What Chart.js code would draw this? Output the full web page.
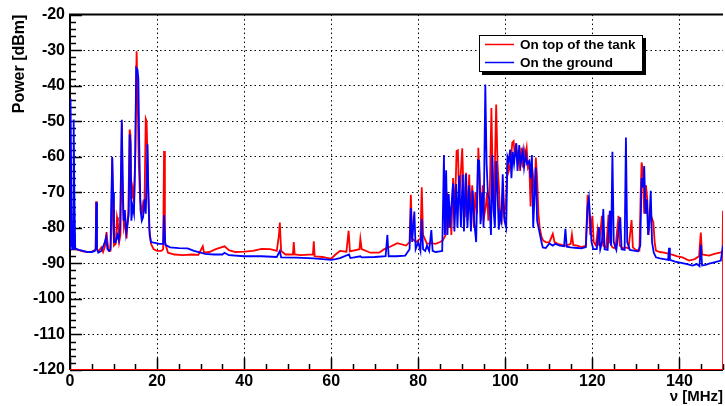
<!DOCTYPE html>
<html>
<head>
<meta charset="utf-8">
<script src="https://cdn.jsdelivr.net/npm/chart.js@4.4.1/dist/chart.umd.min.js"></script>
<style>
  html, body { margin: 0; padding: 0; background: #fff; }
  canvas { display: block; }
</style>
</head>
<body>
<canvas id="spectrum" width="725" height="406"></canvas>
<script>
// tick labels
const xTicks = [0, 20, 40, 60, 80, 100, 120, 140];
const yTicks = [-120, -110, -100, -90, -80, -70, -60, -50, -40, -30, -20];

const seriesLabels = ['On top of the tank', 'On the ground'];

// [frequency MHz, power dBm]
const tankPoints = [
  [0.05,-78],[0.25,-85],[0.5,-84.5],[0.8,-85.5],[1.2,-86],[2,-86.3],[3,-86.6],[4,-86.8],[5,-86.7],[5.6,-86.3],
  [5.9,-86],[6.0,-72.5],[6.15,-86],[6.6,-86.5],[7.2,-85.5],[7.6,-86.8],[8.1,-85],[8.4,-81.2],[8.6,-84],[8.9,-86.5],
  [9.3,-86.5],[9.5,-80],[9.7,-60.5],[9.9,-75],[10.1,-85],[10.5,-84.5],[10.8,-77],[11.0,-78.5],[11.3,-84],[11.6,-82],
  [11.9,-50.5],[12.1,-72],[12.4,-80],[12.7,-78],[13.0,-83],[13.4,-75],[13.7,-52.3],[13.9,-54],[14.1,-72],[14.4,-69],
  [14.7,-73],[15.0,-60],[15.3,-30.3],[15.5,-40],[15.8,-62],[16.1,-72],[16.5,-76],[16.8,-73],[17.1,-74],[17.4,-49.3],
  [17.6,-50],[17.9,-66],[18.2,-80],[18.6,-84.5],[19.2,-86],[20,-86.5],[21,-86.5],[21.4,-86],[21.6,-58.4],[21.8,-84],
  [22.5,-87],[24,-87.5],[26,-87.7],[28,-87.5],[29.5,-87.6],[30.5,-85.2],[30.8,-87],[32,-86.8],[33.5,-86],[35.5,-85.2],
  [36.5,-86.3],[38,-86.8],[40,-86.7],[42,-86.5],[44,-85.9],[46,-86],[47.5,-86.5],[48.0,-82],[48.2,-78.5],[48.5,-86.5],
  [49.5,-87.5],[51.2,-87.5],[51.4,-84],[51.6,-87.5],[53,-87.7],[55.8,-87.5],[56.0,-83.8],[56.2,-88],[58,-88.2],[60,-88.7],
  [61,-87.5],[62,-86.5],[63.5,-86.7],[64.0,-80.8],[64.3,-86.6],[66.5,-86],[66.7,-83.1],[67,-86],[69,-87],[71,-87],
  [72.2,-86],[73.4,-85.4],[75.2,-84.3],[77.2,-85],[78.0,-84],[78.3,-70.7],[78.6,-83],[79.5,-84],[80.5,-83],[80.8,-68.6],
  [81.1,-82],[82,-84.5],[83,-84.3],[84,-84.5],[85,-84],[85.6,-83.6],[86.3,-82],[86.6,-70],[86.9,-80],[87.3,-74],
  [87.6,-82],[88.0,-66],[88.4,-76],[88.8,-58.4],[89.1,-58.2],[89.4,-72],[89.7,-66],[90.1,-57.6],[90.4,-70],[90.7,-77],
  [91.0,-64.5],[91.3,-78],[91.7,-65],[92.0,-76],[92.4,-68],[92.8,-80],[93.1,-70],[93.5,-76],[93.8,-57.5],[94.1,-66],
  [94.4,-78],[94.8,-68],[95.1,-77],[95.5,-74],[95.8,-70],[96.1,-78],[96.4,-72],[96.8,-46.3],[97.1,-66],[97.4,-74],
  [97.9,-45.3],[98.2,-62],[98.5,-68],[98.8,-76],[99.1,-79],[99.4,-70],[99.7,-76],[100.1,-74],[100.5,-60.5],[100.8,-64],
  [101.2,-62],[101.6,-56],[101.9,-55.6],[102.2,-60],[102.5,-56.2],[102.8,-62],[103.1,-58],[103.4,-64],[103.7,-57.5],[104.0,-63],
  [104.3,-58],[104.6,-60],[104.9,-57.5],[105.2,-63],[105.5,-62],[105.8,-74],[106.1,-62],[106.4,-66],[106.7,-71],[107.0,-60.2],
  [107.3,-66],[107.6,-76],[107.9,-80],[108.3,-82.5],[108.7,-83.6],[109.3,-84],[110.1,-84.1],[110.9,-81.7],[111.3,-84],[112,-84.5],
  [113,-84.8],[114,-85],[115.0,-84.5],[115.3,-81.9],[115.6,-84.8],[116.5,-85],[117.5,-85.4],[118.5,-85],[118.9,-70.7],[119.2,-74],
  [119.5,-82],[120.0,-76.6],[120.3,-84],[120.8,-85],[121.2,-80.8],[121.5,-85],[122.2,-76.6],[122.5,-85],[123.2,-85.5],[123.7,-76.3],
  [124.0,-84],[124.6,-85.5],[125.3,-85.8],[126.0,-76.6],[126.3,-85],[127,-85.8],[127.7,-85.5],[128.3,-85.8],[129.0,-77.8],[129.3,-85.5],
  [130,-86.2],[130.8,-86.4],[131.1,-70],[131.3,-61.6],[131.6,-64],[131.9,-76],[132.3,-68],[132.6,-72],[132.9,-82],[133.3,-76],
  [134.0,-78.4],[134.3,-84],[134.6,-86.4],[135.5,-86.8],[136.5,-87],[137.6,-87.3],[138.5,-87.6],[139.5,-88],[140.7,-88.3],[142.2,-89.2],
  [143.5,-88.8],[144.5,-88],[144.9,-81.3],[145.2,-87.5],[146.8,-87.8],[148,-87.3],[149.5,-86.9],[149.9,-86.5],[150,-75.2],[150,-120],
  [0,-120]
];

const groundPoints = [
  [0,-86],[0.1,-60],[0.15,-43.6],[0.3,-70],[0.5,-85],[0.7,-86],[0.84,-49.5],[1.0,-70],[1.2,-85.8],[2,-86.2],
  [3,-86.5],[4,-86.8],[5,-86.8],[5.7,-86.5],[5.9,-86],[6.04,-72.8],[6.2,-86],[6.5,-87],[7.2,-86.5],[7.7,-85],
  [8.0,-84],[8.3,-82.5],[8.6,-86],[9.0,-86.5],[9.3,-86],[9.5,-72],[9.7,-60],[9.9,-70],[10.1,-84],[10.5,-84],
  [10.9,-82],[11.2,-83.5],[11.5,-80],[11.9,-49.6],[12.1,-65],[12.3,-78],[12.6,-75],[12.9,-81.5],[13.2,-79],[13.5,-76],
  [13.7,-53.7],[13.9,-56],[14.1,-78],[14.4,-74],[14.7,-76],[15.0,-58],[15.2,-35],[15.5,-35.5],[15.7,-38],[15.9,-56],
  [16.2,-75],[16.5,-78],[16.8,-77],[17.1,-72],[17.4,-76],[17.8,-56.5],[18.0,-70],[18.3,-82],[18.6,-84],[19.5,-84.2],
  [20.5,-84.5],[21.4,-84.5],[21.6,-76.4],[21.9,-84.8],[23,-85.5],[25,-85.7],[27,-85.8],[28.5,-86.5],[30,-87],[31,-87.3],
  [33,-87.5],[35,-87.5],[35.5,-87],[36.5,-87.7],[40,-88],[44,-88],[47.5,-88.2],[48.2,-86.5],[48.5,-88.3],[52,-88.4],
  [56,-88.6],[58,-88.8],[60,-89],[61,-88.8],[62,-88.5],[64.1,-87.5],[64.4,-88.5],[66.7,-88],[67,-88.3],[70,-88.2],
  [72.5,-88],[72.9,-82],[73.2,-88],[75,-88],[77,-87.8],[78.0,-86],[78.3,-74.4],[78.6,-84],[79.1,-75.4],[79.4,-86],
  [80.0,-84],[80.5,-86.5],[80.8,-77.5],[81.1,-86],[81.6,-86.5],[82.0,-85],[82.5,-86.5],[83.0,-80.6],[83.3,-86.5],[84,-86.8],
  [85,-86.6],[85.5,-86.5],[85.9,-59.5],[86.1,-82],[86.4,-63.8],[86.7,-82],[87.0,-70.5],[87.3,-80],[87.6,-74],[88.0,-67.5],
  [88.3,-81],[88.7,-67.7],[89.0,-80],[89.4,-65.3],[89.8,-79.8],[90.2,-65],[90.5,-81],[90.9,-64.9],[91.3,-80],[91.7,-68],
  [92.1,-81],[92.5,-69.5],[92.9,-79],[93.3,-84],[93.7,-61],[94.0,-61.2],[94.3,-79],[94.7,-70],[95.0,-80],[95.4,-39.7],
  [95.7,-62],[96.0,-70.5],[96.3,-72],[96.7,-82],[97.0,-59.5],[97.3,-75],[97.6,-80],[97.9,-61.2],[98.2,-70],[98.5,-80.5],
  [98.8,-76],[99.1,-78],[99.4,-64.9],[99.8,-78],[100.2,-80],[100.5,-60],[100.8,-61.2],[101.1,-58],[101.4,-66],[101.7,-58.6],
  [102.0,-62],[102.5,-56.2],[102.8,-64],[103.2,-56.7],[103.5,-62],[104.0,-58.5],[104.3,-63],[104.7,-59.3],[105.0,-62],[105.5,-61.2],
  [105.8,-66],[106.1,-59.5],[106.4,-80],[106.7,-71.2],[107.0,-63],[107.3,-78],[107.8,-81],[108.3,-84],[108.6,-85.5],[109.3,-85.7],
  [110.1,-84.4],[110.9,-85],[111.5,-84.5],[112.5,-85],[113.5,-85.2],[113.8,-80.3],[114.1,-85.3],[115,-85.5],[116,-85.6],[117.5,-85.8],
  [118.5,-85.4],[118.9,-74],[119.2,-71.6],[119.5,-78],[119.8,-84],[120.2,-86],[121.0,-86],[121.5,-79.8],[121.8,-86],[122.2,-84],
  [122.5,-74.7],[122.8,-86],[123.5,-86.2],[124.0,-75.2],[124.3,-85],[124.6,-58.6],[124.9,-84],[125.5,-86.2],[126.4,-77],[126.7,-86],
  [127.4,-86.2],[127.7,-54.6],[128.0,-84],[128.6,-86.2],[129.5,-86.4],[130.5,-86.6],[131.0,-85],[131.3,-66],[131.6,-68.7],[131.9,-62.6],
  [132.2,-76],[132.5,-72],[132.8,-82],[133.1,-78],[133.4,-69.6],[133.7,-84],[134.1,-87],[134.6,-88.3],[135.5,-88.6],[136.5,-88.8],
  [137.4,-89],[137.6,-85.6],[137.8,-89],[139,-89.5],[140.7,-89.9],[142,-90.3],[143,-90.6],[144,-90.2],[144.6,-90.8],[144.9,-84.8],
  [145.2,-90.6],[146,-90.4],[146.8,-90.1],[148,-89.7],[149.5,-89.2],[150,-85]
];

const FONT = '"Liberation Sans", Arial, Helvetica, sans-serif';
const toXY = pts => pts.map(p => ({ x: p[0], y: p[1] }));

// ROOT-like frame with inner tick marks
const rootFrame = {
  id: 'rootFrame',
  beforeDatasetsDraw(chart) {
    const { ctx, chartArea: a, scales: { x, y } } = chart;
    ctx.save();
    ctx.strokeStyle = '#000';
    ctx.lineWidth = 1.5;
    ctx.beginPath();
    for (let v = -120; v <= -20; v += 2) {
      const py = Math.round(y.getPixelForValue(v)) + 0.5;
      const len = v % 10 === 0 ? 12 : 6;
      ctx.moveTo(a.left, py); ctx.lineTo(a.left + len, py);
    }
    for (let v = 0; v <= 150; v += 5) {
      const px = Math.round(x.getPixelForValue(v)) + 0.5;
      const len = v % 20 === 0 ? 12 : 6;
      ctx.moveTo(px, a.bottom); ctx.lineTo(px, a.bottom - len);
    }
    ctx.stroke();
    ctx.lineWidth = 2;
    ctx.beginPath();
    ctx.moveTo(a.left, a.bottom); ctx.lineTo(a.left, a.top);
    ctx.lineTo(a.right, a.top);
    ctx.moveTo(a.left, a.bottom); ctx.lineTo(a.right, a.bottom);
    ctx.stroke();
    ctx.restore();
  },
  afterDraw(chart) {
    const ctx = chart.ctx;
    const bx = 479, by = 35, bw = 164, bh = 37;
    ctx.save();
    ctx.fillStyle = '#000';
    ctx.fillRect(bx + 3, by + 3, bw, bh);
    ctx.fillStyle = '#fff';
    ctx.fillRect(bx, by, bw, bh);
    ctx.strokeStyle = '#000';
    ctx.lineWidth = 1;
    ctx.strokeRect(bx + 0.5, by + 0.5, bw - 1, bh - 1);
    ctx.font = 'bold 13.5px ' + FONT;
    ctx.textBaseline = 'middle';
    chart.data.datasets.slice().sort((p, q) => p.legendIndex - q.legendIndex).forEach((ds, i) => {
      const ly = by + 9.5 + i * 18;
      ctx.strokeStyle = ds.borderColor;
      ctx.lineWidth = 1.5;
      ctx.beginPath();
      ctx.moveTo(bx + 6, ly); ctx.lineTo(bx + 35, ly);
      ctx.stroke();
      ctx.fillStyle = '#000';
      ctx.fillText(ds.label, bx + 41, ly + 0.5);
    });
    ctx.restore();
  }
};

new Chart(document.getElementById('spectrum'), {
  type: 'scatter',
  data: {
    datasets: [
      { label: seriesLabels[1], legendIndex: 1, data: toXY(groundPoints), borderColor: '#0000ff', order: 0,
        showLine: true, pointRadius: 0, borderWidth: 1.8, tension: 0, fill: false },
      { label: seriesLabels[0], legendIndex: 0, data: toXY(tankPoints), borderColor: '#ff0000', order: 1,
        showLine: true, pointRadius: 0, borderWidth: 1.8, tension: 0, fill: false }
    ]
  },
  options: {
    responsive: false,
    animation: false,
    devicePixelRatio: 1,
    layout: { padding: { top: 13, right: 2, left: 0, bottom: 0 } },
    plugins: { legend: { display: false }, tooltip: { enabled: false } },
    scales: {
      x: {
        type: 'linear', min: 0, max: 150,
        afterBuildTicks: s => { s.ticks = xTicks.map(v => ({ value: v })); },
        afterFit: s => { s.height = 36; },
        ticks: { color: '#000', padding: 2, maxRotation: 0, autoSkip: false, font: { family: FONT, size: 16, weight: 'bold' } },
        grid: { color: '#000', lineWidth: 1, drawTicks: false },
        border: { display: false, dash: [1.5, 3] },
        title: { display: true, text: 'ν [MHz]', align: 'end', color: '#000', padding: { top: 0, bottom: 0 },
                 font: { family: FONT, size: 15, weight: 'bold' } }
      },
      y: {
        type: 'linear', min: -120, max: -20,
        afterBuildTicks: s => { s.ticks = yTicks.map(v => ({ value: v })); },
        afterFit: s => { s.width = 70; },
        ticks: { color: '#000', padding: 5, font: { family: FONT, size: 16, weight: 'bold' } },
        grid: { color: '#000', lineWidth: 1, drawTicks: false },
        border: { display: false, dash: [1.5, 3] },
        title: { display: true, text: 'Power [dBm]', align: 'end', color: '#000', padding: { top: 10, bottom: 0 },
                 font: { family: FONT, size: 16, weight: 'bold' } }
      }
    }
  },
  plugins: [rootFrame]
});
</script>
</body>
</html>
